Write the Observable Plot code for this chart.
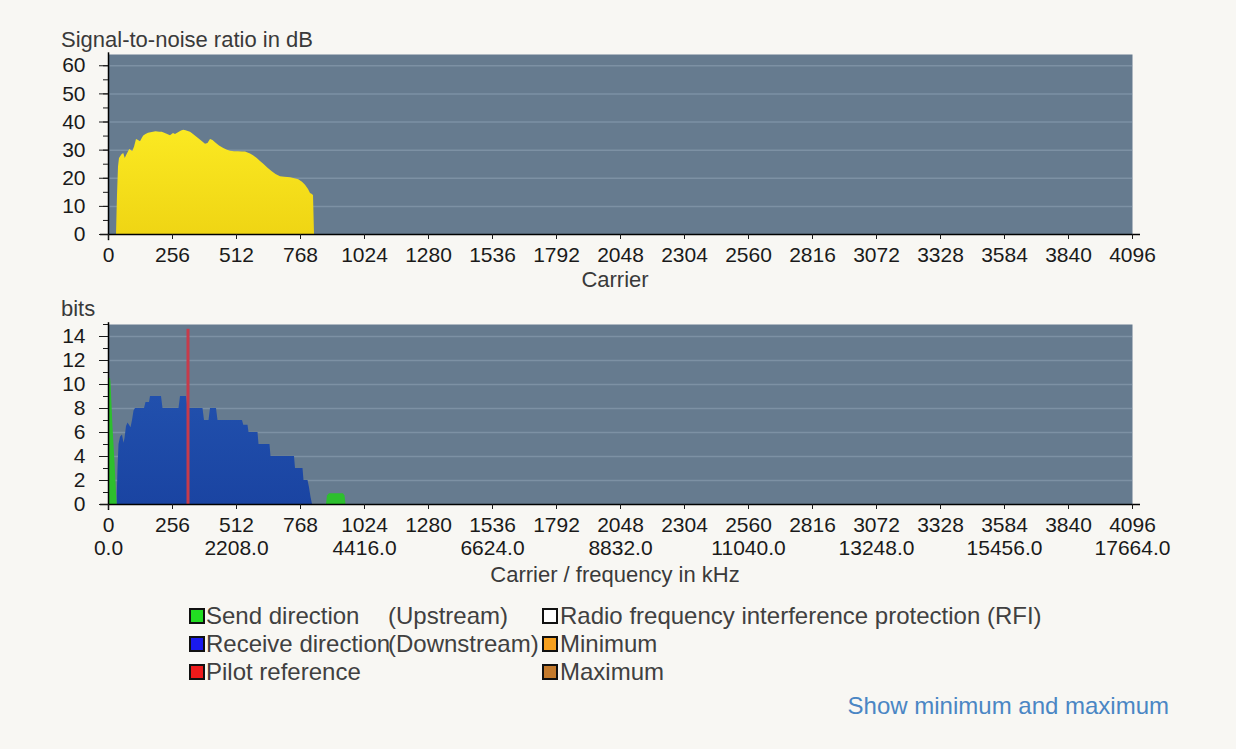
<!DOCTYPE html>
<html>
<head>
<meta charset="utf-8">
<script src="https://cdn.jsdelivr.net/npm/d3@7"></script>
<script src="https://cdn.jsdelivr.net/npm/@observablehq/plot@0.6"></script>
<style>
  html, body { margin: 0; padding: 0; background: #f8f7f3; }
  body { width: 1236px; height: 749px; position: relative; overflow: hidden;
         font-family: "Liberation Sans", Arial, sans-serif; }
  .abs { position: absolute; white-space: nowrap; line-height: 1; }
  .title { font-size: 22px; color: #3a3a3a; }
  .leg { font-size: 24px; color: #404040; }
  .sq { position: absolute; width: 12px; height: 12px; border: 2px solid #111; }
  #top, #bottom { position: absolute; left: 0; }
  #top { top: 30px; }
  #bottom { top: 300px; }
</style>
</head>
<body>
<div class="abs title" style="left:61px; top:29px;">Signal-to-noise ratio in dB</div>
<div id="top"></div>
<div class="abs title" style="left:0; width:1230px; text-align:center; top:269px;">Carrier</div>
<div class="abs title" style="left:61px; top:298px;">bits</div>
<div id="bottom"></div>
<div class="abs title" style="left:0; width:1230px; text-align:center; top:564px;">Carrier / frequency in kHz</div>
<div id="legend"></div>
<div class="abs" style="right:67px; top:694px; font-size:24px; color:#4a86c4;">Show minimum and maximum</div>

<script>
// ---------- data ----------
const snrCarrier = [32, 36, 40, 44, 48, 54, 61, 67, 74, 85, 97, 104, 112, 120, 128, 136, 141, 150, 160, 175, 190, 205, 215, 232, 248, 260, 268, 280, 292, 301, 310, 328, 340, 355, 370, 388, 398, 408, 418, 428, 444, 461, 476, 488, 504, 520, 536, 548, 568, 580, 595, 608, 621, 638, 655, 670, 688, 705, 728, 745, 761, 776, 788, 800, 808, 814, 820, 824];
const snrDb     = [0, 14, 24, 27, 27.6, 28.4, 28.8, 27, 28.4, 30.2, 29.5, 31, 33.8, 33.4, 33, 34.3, 35, 35.6, 36, 36.3, 36.5, 36.4, 36.4, 35.7, 35.1, 35.9, 35.6, 36.2, 36.8, 37.1, 36.9, 36.4, 35.6, 34.5, 33.4, 32.1, 32.4, 33.8, 33.4, 32.6, 31.5, 30.6, 30, 29.6, 29.4, 29.4, 29.3, 29.3, 28.6, 28, 27, 26, 25, 23.6, 22.3, 21.3, 20.5, 20.4, 20.2, 19.8, 19.5, 18.6, 17.5, 16, 14.6, 14.3, 13.9, 0];

const downCarrier = [34, 38, 42, 48, 56, 62, 66, 72, 78, 84, 90, 96, 102, 108, 144, 150, 164, 168, 212, 218, 282, 288, 312, 318, 378, 384, 402, 408, 432, 438, 536, 541, 558, 562, 598, 602, 646, 650, 744, 748, 778, 782, 798, 804, 810, 816];
const downBits    = [0, 3, 5, 5.6, 5.8, 5.1, 5.5, 6.5, 6.8, 6.6, 6.4, 7, 7.8, 8, 8, 8.5, 8.5, 9, 9, 8, 8, 9, 9, 8, 8, 7, 7, 8, 8, 7, 7, 6.6, 6.6, 6, 6, 5, 5, 4, 4, 3, 3, 2, 2, 1.4, 0.6, 0];

const upCarrier = [0, 8, 10, 18, 26, 32, 35];
const upBits    = [10.5, 10.5, 10.2, 6.4, 3.5, 0.9, 0];

const up2Carrier = [872, 876, 884, 940, 946, 950];
const up2Bits    = [0, 0.7, 0.9, 0.9, 0.7, 0];

const pilotCarrier = [318];
const pilotBits = [14.6];

const carrierTicks = [0, 256, 512, 768, 1024, 1280, 1536, 1792, 2048, 2304, 2560, 2816, 3072, 3328, 3584, 3840, 4096];
const freqTickCarriers = [0, 512, 1024, 1536, 2048, 2560, 3072, 3584, 4096];
const freqTickLabels = ["0.0", "2208.0", "4416.0", "6624.0", "8832.0", "11040.0", "13248.0", "15456.0", "17664.0"];
const snrTicks = [0, 10, 20, 30, 40, 50, 60];
const snrMinorTicks = [0, 5, 10, 15, 20, 25, 30, 35, 40, 45, 50, 55, 60];
const snrGrid = [10, 20, 30, 40, 50, 60];
const bitsTicks = [0, 2, 4, 6, 8, 10, 12, 14];
const bitsMinorTicks = [0, 1, 2, 3, 4, 5, 6, 7, 8, 9, 10, 11, 12, 13, 14, 15];
const bitsGrid = [2, 4, 6, 8, 10, 12, 14];

const legendCol1 = ["Send direction", "Receive direction", "Pilot reference"];
const legendCol1Colors = ["#22dd22", "#1a1aee", "#ee1a1a"];
const legendCol2 = ["(Upstream)", "(Downstream)", ""];
const legendCol3 = ["Radio frequency interference protection (RFI)", "Minimum", "Maximum"];
const legendCol3Colors = ["#ffffff", "#f7a01e", "#c47a2c"];

// ---------- helpers ----------
const zip = (xs, ys) => xs.map((c, i) => ({c, v: ys[i]}));
const bg = "#667b8f";
const gridColor = "#7d91a4";
const plain = d => String(d);
const style = {background: "transparent", fontSize: "21px", fontFamily: "'Liberation Sans', Arial, sans-serif", color: "#1a1a1a", overflow: "visible"};

function addGradient(svg, id, top, bottom) {
  const defs = d3.select(svg).insert("defs", ":first-child");
  const g = defs.append("linearGradient").attr("id", id).attr("x1", 0).attr("y1", 0).attr("x2", 0).attr("y2", 1);
  g.append("stop").attr("offset", "0%").attr("stop-color", top);
  g.append("stop").attr("offset", "100%").attr("stop-color", bottom);
}

// ---------- top chart ----------
const snr = zip(snrCarrier, snrDb);
const topPlot = Plot.plot({
  width: 1236, height: 240,
  marginLeft: 108, marginRight: 104, marginTop: 24, marginBottom: 36,
  x: {domain: [0, 4096], label: null},
  y: {domain: [0, 64], label: null},
  style,
  marks: [
    Plot.frame({fill: bg, stroke: "none"}),
    Plot.gridY(snrGrid, {stroke: gridColor, strokeOpacity: 1, strokeWidth: 1.5}),
    Plot.areaY(snr, {x: "c", y: "v", fill: "url(#gradSnr)"}),
    Plot.ruleY([0], {x1: -32, x2: 4128, stroke: "#000", strokeWidth: 1.5}),
    Plot.ruleX([0], {y1: -2.2, y2: 64.6, stroke: "#000", strokeWidth: 1.5}),
    Plot.axisY(snrMinorTicks, {tickSize: 5, tickFormat: () => "", label: null}),
    Plot.axisY(snrTicks, {tickSize: 9, tickPadding: 14, tickFormat: plain, label: null}),
    Plot.axisX(carrierTicks, {tickSize: 5, tickPadding: 8, tickFormat: plain, label: null})
  ]
});
addGradient(topPlot, "gradSnr", "#fbe922", "#efd514");
document.getElementById("top").appendChild(topPlot);

// ---------- bottom chart ----------
const down = zip(downCarrier, downBits);
const up = zip(upCarrier, upBits);
const up2 = zip(up2Carrier, up2Bits);
const pilot = zip(pilotCarrier, pilotBits);
const freqLabelOf = new Map(freqTickCarriers.map((c, i) => [c, freqTickLabels[i]]));

const bottomPlot = Plot.plot({
  width: 1236, height: 265,
  marginLeft: 108, marginRight: 104, marginTop: 24, marginBottom: 61,
  x: {domain: [0, 4096], label: null},
  y: {domain: [0, 15], label: null},
  style,
  marks: [
    Plot.frame({fill: bg, stroke: "none"}),
    Plot.gridY(bitsGrid, {stroke: gridColor, strokeOpacity: 1, strokeWidth: 1.5}),
    Plot.areaY(down, {x: "c", y: "v", fill: "url(#gradDown)"}),
    Plot.areaY(up, {x: "c", y: "v", fill: "#2dbf2d"}),
    Plot.areaY(up2, {x: "c", y: "v", fill: "#2dbf2d"}),
    Plot.ruleX(pilot, {x: "c", y1: 0, y2: "v", stroke: "#c63b4b", strokeWidth: 3}),
    Plot.ruleY([0], {x1: -32, x2: 4128, stroke: "#000", strokeWidth: 1.5}),
    Plot.ruleX([0], {y1: -0.5, y2: 15.15, stroke: "#000", strokeWidth: 1.5}),
    Plot.axisY(bitsMinorTicks, {tickSize: 5, tickFormat: () => "", label: null}),
    Plot.axisY(bitsTicks, {tickSize: 9, tickPadding: 14, tickFormat: plain, label: null}),
    Plot.axisX(carrierTicks, {tickSize: 5, tickPadding: 8, tickFormat: plain, label: null}),
    Plot.axisX(freqTickCarriers, {tickSize: 0, tickPadding: 36, tickFormat: d => freqLabelOf.get(d), label: null})
  ]
});
addGradient(bottomPlot, "gradDown", "#2150ad", "#1a44a2");
document.getElementById("bottom").appendChild(bottomPlot);

// ---------- legend ----------
const legend = document.getElementById("legend");
const rowY = [616, 644, 672];
function addSq(x, y, color) {
  const d = document.createElement("div");
  d.className = "sq";
  d.style.left = x + "px"; d.style.top = (y - 8) + "px"; d.style.background = color;
  legend.appendChild(d);
}
function addText(x, y, t) {
  const d = document.createElement("div");
  d.className = "abs leg";
  d.style.left = x + "px"; d.style.top = (y - 12) + "px";
  d.textContent = t;
  legend.appendChild(d);
}
rowY.forEach((y, i) => {
  addSq(189, y, legendCol1Colors[i]);
  addText(206, y, legendCol1[i]);
  if (legendCol2[i]) addText(388, y, legendCol2[i]);
  addSq(542, y, legendCol3Colors[i]);
  addText(560, y, legendCol3[i]);
});
</script>
</body>
</html>
